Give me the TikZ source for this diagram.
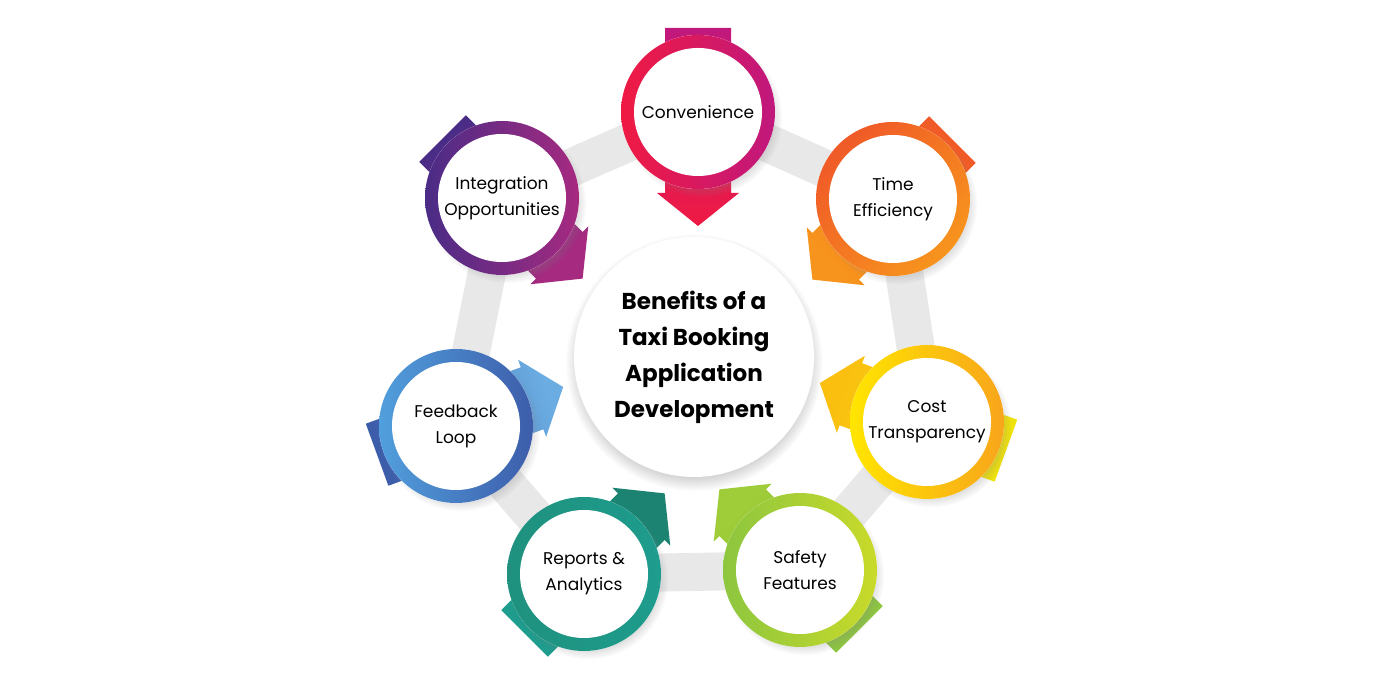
\documentclass[tikz,border=0pt]{standalone}
\usepackage{fontspec}
\setmainfont{Poppins}
\usetikzlibrary{calc,shadows}
\definecolor{bandgray}{HTML}{E8E8E8}
\definecolor{cA}{HTML}{EF1A43}\definecolor{cB}{HTML}{C0187D}
\definecolor{tA}{HTML}{F05A28}\definecolor{tB}{HTML}{F7941D}
\definecolor{kA}{HTML}{FFE500}\definecolor{kB}{HTML}{F8A51B}
\definecolor{sA}{HTML}{8DC63F}\definecolor{sB}{HTML}{C9DA2A}
\definecolor{rA}{HTML}{1F917E}\definecolor{rB}{HTML}{1E9C8D}
\definecolor{fA}{HTML}{519FDD}\definecolor{fB}{HTML}{3D5DAA}
\definecolor{iA}{HTML}{4A2C86}\definecolor{iB}{HTML}{A62A80}
\newcommand\benarrow[5]{%
  \shade[top color=#4, bottom color=#3, shading angle=#5]
  ($(#1)+(#2:-84)+(#2+90:33)$) -- ($(#1)+(#2:81)+(#2+90:33)$) --
  ($(#1)+(#2:81)+(#2+90:41)$) -- ($(#1)+(#2:114)$) --
  ($(#1)+(#2:81)+(#2-90:41)$) -- ($(#1)+(#2:81)+(#2-90:33)$) --
  ($(#1)+(#2:-84)+(#2-90:33)$) -- cycle;}
\newcommand\benring[4]{%
  \path[fill=white, circular drop shadow={shadow xshift=4pt, shadow yshift=-5pt, opacity=0.3, shadow scale=1.04}] (#1) circle[radius=77];
  \shade[left color=#2, right color=#3, shading angle=#4] (#1) circle[radius=77];
  \fill[white] (#1) circle[radius=64];}
\tikzset{
  lbl/.style={font=\fontsize{17}{26}\selectfont, align=center, text=black},
  ttl/.style={font=\fontsize{23}{36}\selectfont\bfseries, align=center, text=black}
}
\begin{document}
\begin{tikzpicture}[x=1pt,y=1pt]
\useasboundingbox (0,0) rectangle (1400,700);
\fill[white] (0,0) rectangle (1400,700);
\coordinate (ctr) at (694,343);
\coordinate (conv) at (698,588);
\coordinate (time) at (893,501);
\coordinate (cost) at (927,278);
\coordinate (safe) at (800,130);
\coordinate (rep) at (584,126);
\coordinate (feed) at (456,274);
\coordinate (integ) at (502,502);
% grey band
\draw[bandgray, line width=38pt, line join=round] (conv) -- (time) -- (cost) -- (safe) -- (rep) -- (feed) -- (integ) -- cycle;
% centre circle
\path[fill=white, circular drop shadow={shadow xshift=0pt, shadow yshift=-5pt, opacity=0.45, shadow scale=1.07}] (ctr) circle[radius=120];
\node[ttl] (title) at (ctr) {Benefits of a\\Taxi Booking\\Application\\Development};
% arrows
\benarrow{conv}{270}{cB}{cA}{180}
\benarrow{time}{225}{tA}{tB}{135}
\benarrow{cost}{160}{kA!70!sB}{kB!60!kA}{70}
\benarrow{safe}{135}{sA}{sA!70!sB}{45}
\benarrow{rep}{45}{rB}{rA!90!black}{-45}
\benarrow{feed}{20}{fB}{fA!85!white}{-70}
\benarrow{integ}{315}{iA}{iB}{225}
% rings
\benring{conv}{cA}{cB}{90}
\benring{time}{tA}{tB}{45}
\benring{cost}{kA}{kB}{90}
\benring{safe}{sA}{sB}{90}
\benring{rep}{rA}{rB}{90}
\benring{feed}{fA}{fB}{90}
\benring{integ}{iA}{iB}{90}
% labels
\node[lbl] (convT) at (conv) {Convenience};
\node[lbl] (timeT) at (time) {Time\\Efficiency};
\node[lbl] (costT) at (cost) {Cost\\Transparency};
\node[lbl] (safeT) at (safe) {Safety\\Features};
\node[lbl] (repT) at (rep) {Reports \&\\Analytics};
\node[lbl] (feedT) at (feed) {Feedback\\Loop};
\node[lbl] (integT) at (integ) {Integration\\Opportunities};
\end{tikzpicture}
\end{document}
